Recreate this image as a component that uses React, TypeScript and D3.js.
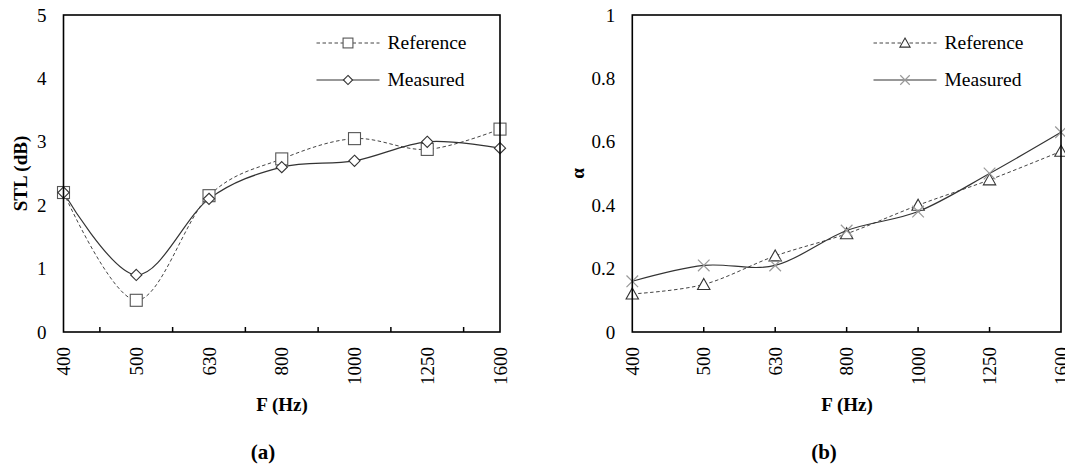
import React, { useEffect, useRef } from "react";
import * as d3 from "d3";

// frequency bands (Hz)
const categories = ["400", "500", "630", "800", "1000", "1250", "1600"];

// (a) sound transmission loss, dB
const stlReference = [2.2, 0.5, 2.15, 2.73, 3.05, 2.88, 3.2];
const stlMeasured = [2.2, 0.9, 2.1, 2.6, 2.7, 3.0, 2.9];
const stlTicks = [0, 1, 2, 3, 4, 5];

// (b) absorption coefficient
const alphaReference = [0.12, 0.15, 0.24, 0.31, 0.4, 0.48, 0.57];
const alphaMeasured = [0.16, 0.21, 0.21, 0.32, 0.38, 0.5, 0.63];
const alphaTicks = [0, 0.2, 0.4, 0.6, 0.8, 1];

const seriesNames = ["Reference", "Measured"];

const width = 1065;
const height = 468;
const font = "'Liberation Serif', 'Times New Roman', serif";

const App = () => {
  const svgRef = useRef(null);

  useEffect(() => {
    const svg = d3.select(svgRef.current);
    svg.selectAll("*").remove();

    const panels = [
      {
        left: 63.5, right: 500, top: 15, bottom: 332,
        ticks: stlTicks, yMax: 5, fmt: (d) => String(d),
        ref: stlReference, meas: stlMeasured,
        refMarker: "square", measMarker: "diamond",
        between: true, yTitle: "STL (dB)", yTitleX: 20,
        legendX: 316.5, caption: "(a)", captionX: 263, titleX: 282,
      },
      {
        left: 632.3, right: 1061, top: 15, bottom: 332,
        ticks: alphaTicks, yMax: 1, fmt: (d) => String(d),
        ref: alphaReference, meas: alphaMeasured,
        refMarker: "triangle", measMarker: "cross",
        between: false, yTitle: "α", yTitleX: 577,
        legendX: 873.5, caption: "(b)", captionX: 824, titleX: 847,
      },
    ];

    const drawMarker = (g, type, cx, cy, big) => {
      const s = big ? 1 : 0.82;
      if (type === "square") {
        const h = 6 * s;
        g.append("rect")
          .attr("x", cx - h).attr("y", cy - h)
          .attr("width", 2 * h).attr("height", 2 * h)
          .attr("fill", "#fff").attr("stroke", "#555").attr("stroke-width", 1.1);
      } else if (type === "diamond") {
        const h = 5.6 * s;
        g.append("path")
          .attr("d", `M${cx},${cy - h}L${cx + h},${cy}L${cx},${cy + h}L${cx - h},${cy}Z`)
          .attr("fill", "#fff").attr("stroke", "#333").attr("stroke-width", 1.1);
      } else if (type === "triangle") {
        const w = 6.2 * s;
        g.append("path")
          .attr("d", `M${cx},${cy - 6 * s}L${cx + w},${cy + 5 * s}L${cx - w},${cy + 5 * s}Z`)
          .attr("fill", "#fff").attr("stroke", "#333").attr("stroke-width", 1.1);
      } else {
        const h = 5.8 * s;
        g.append("path")
          .attr("d", `M${cx - h},${cy - h}L${cx + h},${cy + h}M${cx - h},${cy + h}L${cx + h},${cy - h}`)
          .attr("fill", "none").attr("stroke", "#999").attr("stroke-width", 1.2);
      }
    };

    panels.forEach((p) => {
      const x = d3.scalePoint().domain(categories).range([p.left, p.right]);
      const y = d3.scaleLinear().domain([0, p.yMax]).range([p.bottom, p.top]);
      const g = svg.append("g").style("font-family", font);

      // y tick labels
      g.selectAll(".ytick")
        .data(p.ticks)
        .join("text")
        .attr("x", p.left - 17)
        .attr("y", (d) => y(d))
        .attr("dy", "0.35em")
        .attr("text-anchor", "end")
        .attr("font-size", 19)
        .text(p.fmt);

      // x tick marks (inside, pointing up)
      const tickPos = p.between
        ? categories.slice(1).map((c, i) => (x(categories[i]) + x(c)) / 2)
        : categories.slice(1, -1).map((c) => x(c));
      g.selectAll(".xtick")
        .data(tickPos)
        .join("line")
        .attr("x1", (d) => d).attr("x2", (d) => d)
        .attr("y1", p.bottom).attr("y2", p.bottom - 5)
        .attr("stroke", "#000").attr("stroke-width", 1.5);

      // x tick labels, rotated
      g.selectAll(".xlabel")
        .data(categories)
        .join("text")
        .attr("transform", (d) => `translate(${x(d)},${p.bottom + 15}) rotate(-90)`)
        .attr("dy", "0.35em")
        .attr("text-anchor", "end")
        .attr("font-size", 19)
        .text((d) => d);

      // smoothed lines
      const line = d3.line()
        .x((d, i) => x(categories[i]))
        .y((d) => y(d))
        .curve(d3.curveCardinal.tension(0));

      g.append("path")
        .attr("d", line(p.ref))
        .attr("fill", "none").attr("stroke", "#444").attr("stroke-width", 1)
        .attr("stroke-dasharray", "3.5,2.5");
      g.append("path")
        .attr("d", line(p.meas))
        .attr("fill", "none").attr("stroke", "#333").attr("stroke-width", 1.2);

      p.ref.forEach((v, i) => drawMarker(g, p.refMarker, x(categories[i]), y(v), true));
      p.meas.forEach((v, i) => drawMarker(g, p.measMarker, x(categories[i]), y(v), true));

      // plot frame
      g.append("rect")
        .attr("x", p.left).attr("y", p.top)
        .attr("width", p.right - p.left).attr("height", p.bottom - p.top)
        .attr("fill", "none").attr("stroke", "#000").attr("stroke-width", 1.6);

      // legend
      const legendY = [43, 80];
      seriesNames.forEach((name, i) => {
        const ly = legendY[i];
        g.append("line")
          .attr("x1", p.legendX).attr("x2", p.legendX + 63)
          .attr("y1", ly).attr("y2", ly)
          .attr("stroke", i === 0 ? "#444" : "#333")
          .attr("stroke-width", i === 0 ? 1 : 1.2)
          .attr("stroke-dasharray", i === 0 ? "3.5,2.5" : null);
        drawMarker(g, i === 0 ? p.refMarker : p.measMarker, p.legendX + 31.5, ly, false);
        g.append("text")
          .attr("x", p.legendX + 71)
          .attr("y", ly)
          .attr("dy", "0.33em")
          .attr("font-size", 19.5)
          .text(name);
      });

      // axis titles
      g.append("text")
        .attr("x", p.titleX).attr("y", 411)
        .attr("text-anchor", "middle")
        .attr("font-size", 19).attr("font-weight", "bold")
        .text("F (Hz)");
      g.append("text")
        .attr("transform", `translate(${p.yTitleX},${(p.top + p.bottom) / 2}) rotate(-90)`)
        .attr("dy", "0.35em")
        .attr("text-anchor", "middle")
        .attr("font-size", 19).attr("font-weight", "bold")
        .text(p.yTitle);

      g.append("text")
        .attr("x", p.captionX).attr("y", 459)
        .attr("text-anchor", "middle")
        .attr("font-size", 21).attr("font-weight", "bold")
        .text(p.caption);
    });
  }, []);

  return (
    <svg
      ref={svgRef}
      width={width}
      height={height}
      viewBox={`0 0 ${width} ${height}`}
      style={{ position: "absolute", left: 0, top: 0, background: "#fff" }}
    ></svg>
  );
};

export default App;
